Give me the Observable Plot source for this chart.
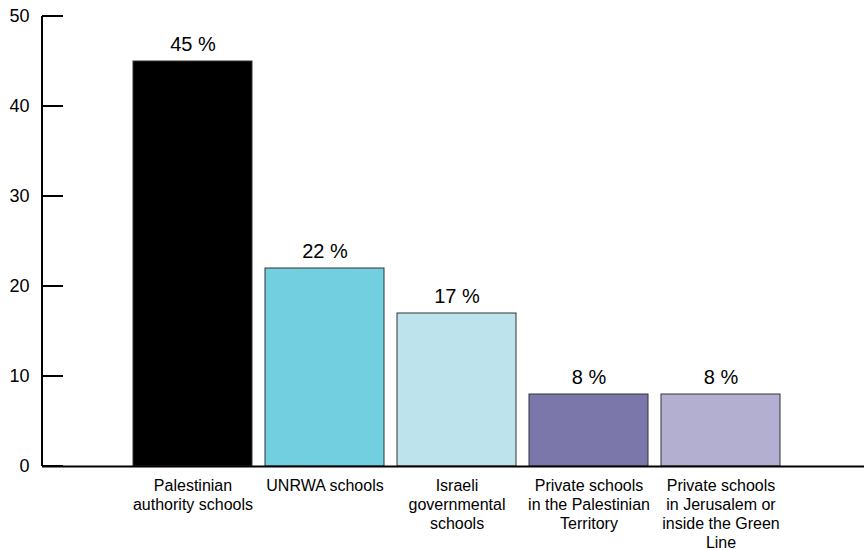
<!DOCTYPE html>
<html>
<head>
<meta charset="utf-8">
<script src="https://cdn.jsdelivr.net/npm/d3@7"></script>
<script src="https://cdn.jsdelivr.net/npm/@observablehq/plot@0.6"></script>
<style>
  html, body { margin: 0; padding: 0; background: #fff; }
  svg { display: block; }
</style>
</head>
<body>
<div id="chart"></div>
<script>
const categories = [
  "Palestinian\nauthority schools",
  "UNRWA schools",
  "Israeli\ngovernmental\nschools",
  "Private schools\nin the Palestinian\nTerritory",
  "Private schools\nin Jerusalem or\ninside the Green\nLine"
];
const values = [45, 22, 17, 8, 8];
const colors = ["#000000", "#72cfe0", "#bde4ec", "#7b77ab", "#b3afd0"];
const yTicks = [0, 10, 20, 30, 40, 50];

const data = categories.map((c, i) => ({category: c, value: values[i], color: colors[i]}));

const font = "Liberation Sans, Arial, Helvetica, sans-serif";

const axisLines = (index, scales, values, dims) => {
  const g = d3.create("svg:g");
  const x0 = dims.marginLeft;
  const y = scales.y;
  g.append("line")
    .attr("x1", x0).attr("x2", x0)
    .attr("y1", y(0)).attr("y2", y(50))
    .attr("stroke", "#000").attr("stroke-width", 2);
  for (const t of yTicks) {
    g.append("line")
      .attr("x1", x0).attr("x2", x0 + 21)
      .attr("y1", y(t)).attr("y2", y(t))
      .attr("stroke", "#000").attr("stroke-width", 2);
  }
  return g.node();
};

const chart = Plot.plot({
  width: 864,
  height: 550,
  marginLeft: 42,
  marginRight: 0,
  marginTop: 16,
  marginBottom: 84,
  style: {fontFamily: font, background: "#fff", overflow: "visible"},
  x: {domain: categories, range: [132, 781], paddingInner: 0.1, paddingOuter: 0, axis: null},
  y: {domain: [0, 50], axis: null},
  marks: [
    Plot.barY(data, {x: "category", y: "value", fill: "color", stroke: "#333", strokeWidth: 1}),
    Plot.ruleY([0], {stroke: "#000", strokeWidth: 2}),
    axisLines,
    Plot.axisY({ticks: yTicks, tickSize: 0, tickPadding: 13, fontSize: 18, fill: "#000", label: null, tickFormat: d => String(d)}),
    Plot.text(data, {x: "category", y: "value", text: d => d.value + " %", lineAnchor: "bottom", dy: -11, fontSize: 20, fill: "#000"}),
    Plot.text(data, {x: "category", y: 0, text: "category", lineAnchor: "top", dy: 11, fontSize: 16, lineHeight: 1.1875, fill: "#000"})
  ]
});
document.getElementById("chart").appendChild(chart);
</script>
</body>
</html>
